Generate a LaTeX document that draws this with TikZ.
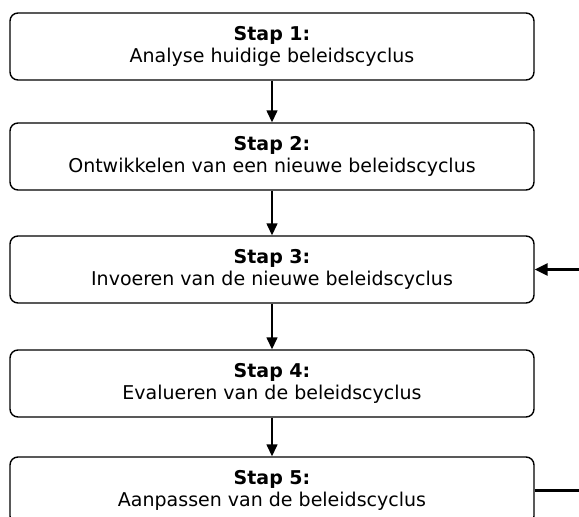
\documentclass[tikz,border=0pt]{standalone}
\usepackage{fontspec}
\setmainfont{DejaVu Sans}
\usetikzlibrary{arrows.meta}
\begin{document}
\begin{tikzpicture}[x=1pt,y=-1pt,
  stepbox/.style={draw, line width=1.4pt, rounded corners=8pt, minimum width=524pt, minimum height=67pt, align=center, inner sep=0pt, font=\fontsize{19}{22.5}\selectfont},
  flow/.style={line width=1.4pt, -{Triangle[length=12pt,width=11pt]}},
  back/.style={line width=3pt}]
\useasboundingbox (0,0) rectangle (579,517);
\begin{scope}
\clip (0,0) rectangle (579,517);
\node[stepbox] (s1) at (272,46.5) {\textbf{Stap 1:}\\Analyse huidige beleidscyclus};
\node[stepbox] (s2) at (272,156.5) {\textbf{Stap 2:}\\Ontwikkelen van een nieuwe beleidscyclus};
\node[stepbox] (s3) at (272,269.5) {\textbf{Stap 3:}\\Invoeren van de nieuwe beleidscyclus};
\node[stepbox] (s4) at (272,383.5) {\textbf{Stap 4:}\\Evalueren van de beleidscyclus};
\node[stepbox] (s5) at (272,490.5) {\textbf{Stap 5:}\\Aanpassen van de beleidscyclus};
\draw[flow] (s1) -- (s2);
\draw[flow] (s2) -- (s3);
\draw[flow] (s3) -- (s4);
\draw[flow] (s4) -- (s5);
\coordinate (c) at (600,0);
\draw[back, -{Triangle[length=13pt,width=12pt]}] (s5.east) -| (c |- s3.east) -- (s3.east);
\end{scope}
\end{tikzpicture}
\end{document}
